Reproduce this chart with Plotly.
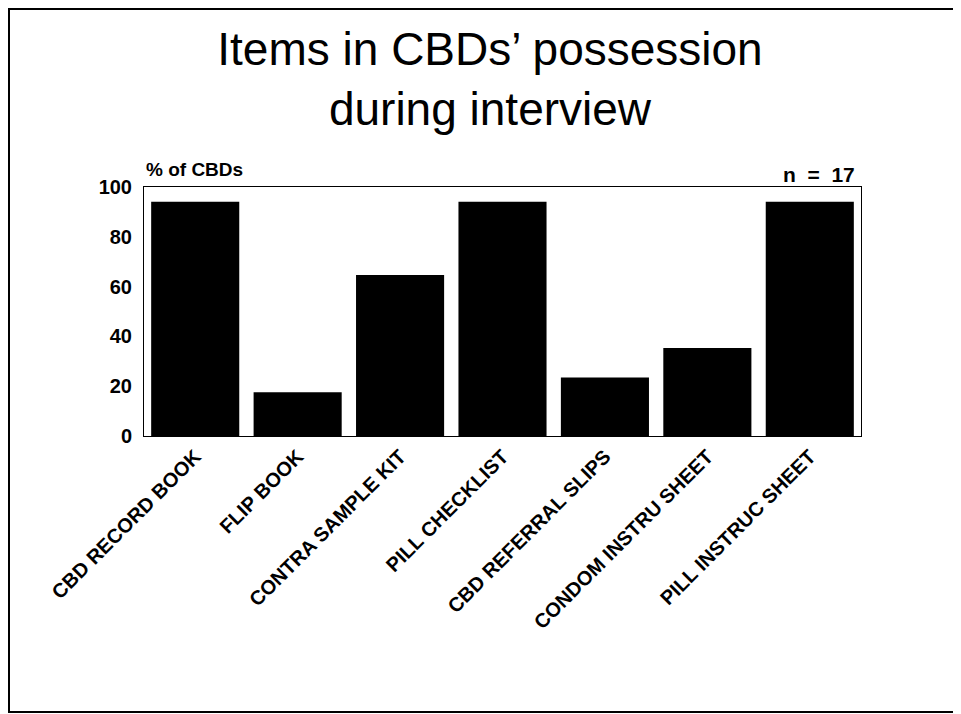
import plotly.graph_objects as go

categories = ["CBD RECORD BOOK", "FLIP BOOK", "CONTRA SAMPLE KIT", "PILL CHECKLIST",
              "CBD REFERRAL SLIPS", "CONDOM INSTRU SHEET", "PILL INSTRUC SHEET"]
pct_cbds = [94.1, 17.6, 64.7, 94.1, 23.5, 35.3, 94.1]
y_ticks = [0, 20, 40, 60, 80, 100]

# the page places the figure 8px from the window's top-left corner
W, H = 961, 714
L, R, T, B = 136, 108, 179, 286
pw, ph = W - L - R, H - T - B

def px(x):
    return (x - L) / pw

def py(y):
    return (H - B - y) / ph

fig = go.Figure(go.Bar(x=categories, y=pct_cbds, marker=dict(color="black", line=dict(width=0))))

font_family = "Liberation Sans, Arial, sans-serif"
fig.update_layout(
    width=W, height=H,
    margin=dict(l=L, r=R, t=T, b=B),
    paper_bgcolor="white", plot_bgcolor="white",
    bargap=0.14,
    showlegend=False,
    font=dict(family=font_family, color="black"),
    title=dict(text="Items in CBDs’ possession<br>during interview",
               x=482 / W, xanchor="center", xref="container",
               y=1 - 57 / H, yanchor="top", yref="container",
               font=dict(size=46, family=font_family, color="black")),
    xaxis=dict(showline=True, linecolor="black", linewidth=1, mirror=True,
               ticks="", tickangle=-45, showgrid=False,
               tickfont=dict(size=20, family=font_family, color="black", weight="bold")),
    yaxis=dict(range=[0, 100], tickvals=y_ticks, showline=True, linecolor="black",
               linewidth=1, mirror=True, ticks="", showgrid=False, zeroline=False,
               ticklabelstandoff=7,
               tickfont=dict(size=20, family=font_family, color="black", weight="bold")),
    annotations=[
        dict(text="<b>% of CBDs</b>", xref="paper", yref="paper", x=0, y=1,
             xanchor="left", yanchor="bottom", yshift=5, showarrow=False,
             font=dict(size=19, family=font_family, color="black")),
        dict(text="<b>n\u00a0\u00a0=\u00a0\u00a017</b>", xref="paper", yref="paper", x=px(849), y=1,
             xanchor="right", yanchor="bottom", yshift=-1, showarrow=False,
             font=dict(size=21, family=font_family, color="black")),
    ],
    shapes=[
        dict(type="rect", xref="paper", yref="paper",
             x0=px(1), x1=px(951), y0=py(704), y1=py(1),
             line=dict(color="black", width=2), fillcolor="rgba(0,0,0,0)", layer="below"),
    ],
)

fig.write_html("out.html")
